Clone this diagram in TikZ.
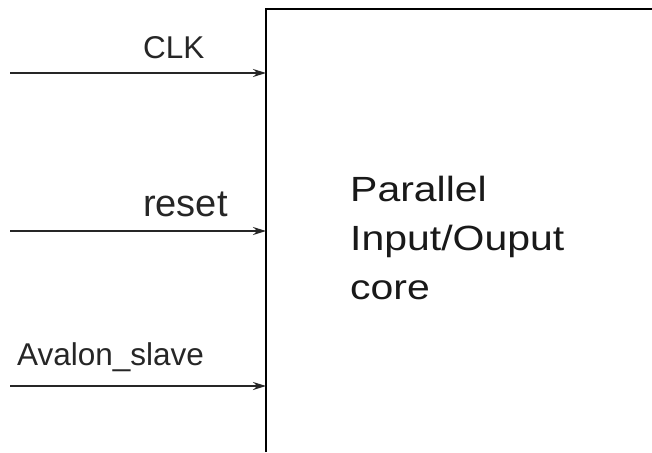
\documentclass[tikz,border=0pt]{standalone}
\usepackage{fontspec}
\setmainfont{Liberation Sans}
\newfontfamily\widefont[FakeStretch=1.17]{Liberation Sans}
\usetikzlibrary{arrows.meta}
\begin{document}
\begin{tikzpicture}[x=1pt,y=-1pt,
  sig/.style={-{Stealth[length=13pt,width=8pt]}, line width=1.8pt, draw=black!85},
  lbl/.style={anchor=base west, inner sep=0pt, font=\fontsize{31.5}{31.5}\selectfont, text=black!85},
  core/.style={anchor=base west, inner sep=0pt, font=\widefont\fontsize{35}{35}\selectfont, text=black!90}]
\useasboundingbox (0,0) rectangle (652,452);
\fill[white] (0,0) rectangle (652,452);
% box (top and left edges visible)
\coordinate (boxbl) at (266,452);
\coordinate (boxtl) at (266,9);
\coordinate (boxtr) at (652,9);
\draw[line width=2pt] (boxbl) -- (boxtl) -- (boxtr);
% signals
\coordinate (clkin) at (10,73);   \coordinate (clkport) at (266,73);
\coordinate (rstin) at (10,231);  \coordinate (rstport) at (266,231);
\coordinate (avin) at (10,386);   \coordinate (avport) at (266,386);
\draw[sig] (clkin) -- (clkport);
\draw[sig] (rstin) -- (rstport);
\draw[sig] (avin) -- (avport);
\node[lbl] (clk) at (143,58) {CLK};
\node[lbl, font=\fontsize{38}{38}\selectfont] (rst) at (143,216) {reset};
\node[lbl] (av) at (17,365) {Avalon\_slave};
% core text
\node[core] (t1) at (350,201) {Parallel};
\node[core] (t2) at (350,250) {Input/Ouput};
\node[core] (t3) at (350,299) {core};
\end{tikzpicture}
\end{document}
